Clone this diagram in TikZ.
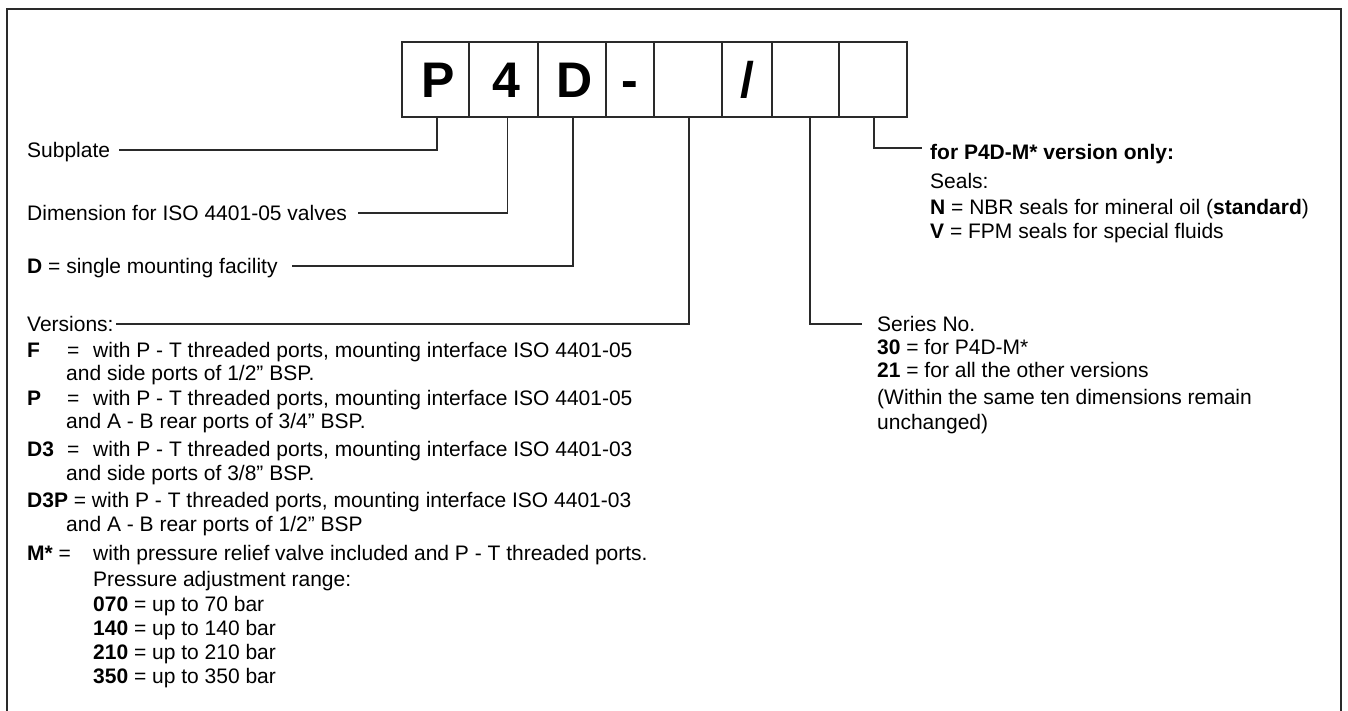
\documentclass[tikz,border=0pt]{standalone}
\usepackage{fontspec}
\setmainfont{Liberation Sans}
\definecolor{ink}{HTML}{2A2A2A}
\begin{document}
\begin{tikzpicture}[x=1pt,y=-1pt,
  lbl/.style={anchor=west,inner sep=0pt,text height=15pt,text depth=1pt,font=\fontsize{21}{25}\selectfont},
  cell/.style={draw=ink,line width=1.8pt,minimum width=#1,minimum height=75pt,inner sep=0pt,text height=36pt,text depth=0pt,font=\fontsize{50}{50}\selectfont\bfseries},
  glyph/.style={inner sep=0pt,text height=36pt,text depth=0pt,font=\fontsize{50}{50}\selectfont\bfseries},
  conn/.style={draw=ink,line width=1.3pt},
  frame/.style={draw=ink,line width=1.5pt}]
\useasboundingbox (0,0) rectangle (1348,710);
\draw[frame] (7,712) -- (7,9) -- (1341,9) -- (1341,712);
% code boxes
\node[cell=67] (b1) at (435.5,79.5) {};
\node[cell=69] (b2) at (503.5,79.5) {};
\node[cell=68] (b3) at (572,79.5) {};
\node[cell=48] (b4) at (630,79.5) {};
\node[cell=68] (b5) at (688,79.5) {};
\node[cell=50] (b6) at (747,79.5) {};
\node[cell=67] (b7) at (805.5,79.5) {};
\node[cell=68] (b8) at (873,79.5) {};
\node[glyph] (g1) at ([xshift=3pt]b1.center) {P};
\node[glyph] (g2) at ([xshift=3pt]b2.center) {4};
\node[glyph] (g3) at ([xshift=3pt]b3.center) {D};
\node[glyph] (g4) at (b4.center) {-};
\node[glyph] (g6) at (b6.center) {/};
% left labels
\node[lbl] (subplate) at (27,150) {Subplate};
\node[lbl] (dim) at (27,213) {Dimension for ISO 4401-05 valves};
\node[lbl] (dfac) at (27,266) {\textbf{D} = single mounting facility};
\node[lbl] (versions) at (27,324) {Versions:};
\node[lbl] (vF) at (27,350) {\textbf{F}};
\node[lbl] (eqF) at (67,350) {=};
\node[lbl] (tF) at (93,350) {with P - T threaded ports, mounting interface ISO 4401-05};
\node[lbl] (cF) at (66,373) {and side ports of 1/2” BSP.};
\node[lbl] (vP) at (27,398) {\textbf{P}};
\node[lbl] (eqP) at (67,398) {=};
\node[lbl] (tP) at (93,398) {with P - T threaded ports, mounting interface ISO 4401-05};
\node[lbl] (cP) at (66,421) {and A - B rear ports of 3/4” BSP.};
\node[lbl] (vD3) at (27,449) {\textbf{D3}};
\node[lbl] (eqD3) at (67,449) {=};
\node[lbl] (tD3) at (93,449) {with P - T threaded ports, mounting interface ISO 4401-03};
\node[lbl] (cD3) at (66,473) {and side ports of 3/8” BSP.};
\node[lbl] (vD3P) at (27,500) {\textbf{D3P} = with P - T threaded ports, mounting interface ISO 4401-03};
\node[lbl] (cD3P) at (66,524) {and A - B rear ports of 1/2” BSP};
\node[lbl] (vM) at (27,553) {\textbf{M*} =};
\node[lbl] (tM) at (93,553) {with pressure relief valve included and P - T threaded ports.};
\node[lbl] (pr) at (93,579) {Pressure adjustment range:};
\node[lbl] (p070) at (93,604) {\textbf{070} = up to 70 bar};
\node[lbl] (p140) at (93,628) {\textbf{140} = up to 140 bar};
\node[lbl] (p210) at (93,652) {\textbf{210} = up to 210 bar};
\node[lbl] (p350) at (93,676) {\textbf{350} = up to 350 bar};
% right labels
\node[lbl] (forp) at (930,152) {\textbf{for P4D-M* version only:}};
\node[lbl] (seals) at (930,181) {Seals:};
\node[lbl] (sN) at (930,207) {\textbf{N} = NBR seals for mineral oil (\textbf{standard})};
\node[lbl] (sV) at (930,231) {\textbf{V} = FPM seals for special fluids};
\node[lbl] (series) at (877,324) {Series No.};
\node[lbl] (s30) at (877,347) {\textbf{30} = for P4D-M*};
\node[lbl] (s21) at (877,370) {\textbf{21} = for all the other versions};
\node[lbl] (within) at (877,397) {(Within the same ten dimensions remain};
\node[lbl] (unch) at (877,422) {unchanged)};
% connectors
\draw[conn] ([xshift=1.5pt]b1.south) |- ([xshift=9pt]subplate.east);
\draw[conn] ([xshift=4pt]b2.south) |- ([xshift=11pt]dim.east);
\draw[conn] ([xshift=1pt]b3.south) |- ([xshift=14pt]dfac.east);
\draw[conn] ([xshift=1pt]b5.south) |- ([xshift=2pt]versions.east);
\draw[conn] ([xshift=4.5pt]b7.south) |- ([xshift=-15pt]series.west);
\draw[conn] ([xshift=1pt]b8.south) |- ([xshift=-8pt,yshift=4pt]forp.west);
\end{tikzpicture}
\end{document}
